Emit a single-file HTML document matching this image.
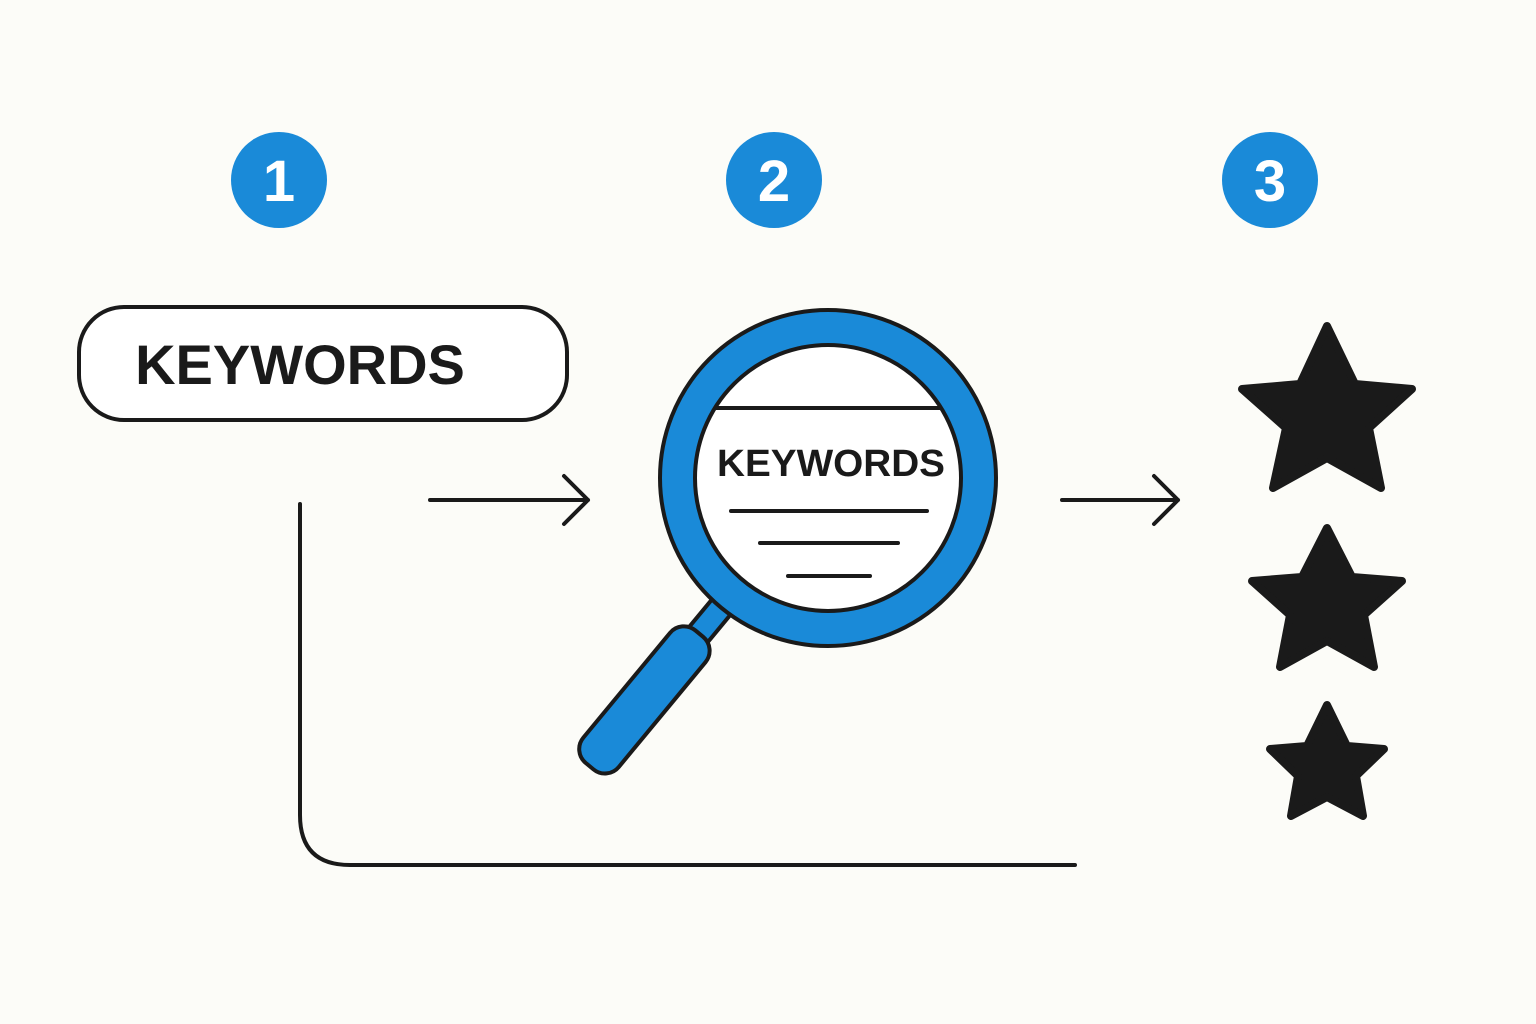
<!DOCTYPE html>
<html><head><style>html,body{margin:0;padding:0;background:#fcfcf8}svg{display:block}</style></head>
<body>
<svg width="1536" height="1024" viewBox="0 0 1536 1024" xmlns="http://www.w3.org/2000/svg">
<rect width="1536" height="1024" fill="#fcfcf8"/>
<g fill="#1a8ad8">
<circle cx="279" cy="180" r="48"/><circle cx="774" cy="180" r="48"/><circle cx="1270" cy="180" r="48"/>
</g>
<g fill="#fff" font-family="Liberation Sans, sans-serif" font-weight="bold" font-size="58" text-anchor="middle">
<text x="279" y="201">1</text><text x="774" y="201">2</text><text x="1270" y="201">3</text>
</g>
<rect x="79" y="307" width="488" height="113" rx="45" fill="#fff" stroke="#1a1a1a" stroke-width="4"/>
<text x="300" y="384" font-family="Liberation Sans, sans-serif" font-weight="bold" font-size="56" text-anchor="middle" fill="#1a1a1a">KEYWORDS</text>
<g stroke="#1a1a1a" stroke-width="4" fill="none" stroke-linecap="round" stroke-linejoin="round">
<path d="M430 500 H588 M564 476 L588 500 L564 524"/>
<path d="M1062 500 H1178 M1154 476 L1178 500 L1154 524"/>
<path d="M300 504 V815 Q300 865 350 865 H1075"/>
</g>
<!-- magnifier -->
<g stroke="#1a1a1a" stroke-width="4" stroke-linejoin="round">
<g transform="translate(828 478) rotate(39.6)" fill="#1a8ad8">
<rect x="-12" y="150" width="24" height="62"/>
<rect x="-23" y="202" width="46" height="172" rx="18"/>
</g>
<circle cx="828" cy="478" r="168" fill="#1a8ad8"/>
<circle cx="828" cy="478" r="133" fill="#fff"/>
</g>
<g stroke="#1a1a1a" stroke-width="4" stroke-linecap="round">
<line x1="716" y1="408" x2="940" y2="408"/>
<line x1="731" y1="511" x2="927" y2="511"/>
<line x1="760" y1="543" x2="898" y2="543"/>
<line x1="788" y1="576" x2="870" y2="576"/>
</g>
<text x="831" y="476" font-family="Liberation Sans, sans-serif" font-weight="bold" font-size="38" text-anchor="middle" fill="#1a1a1a" textLength="228" lengthAdjust="spacingAndGlyphs">KEYWORDS</text>
<!-- stars -->
<g fill="#1a1a1a" stroke="#1a1a1a" stroke-width="8" stroke-linejoin="round">
<path d="M1327 326 L1355 384 L1412 389 L1369 428 L1381 488 L1327 458 L1273 488 L1286 428 L1242 389 L1300 384 Z"/>
<path d="M1327 528 L1352 577 L1402 581 L1364 615 L1374 667 L1327 641 L1280 667 L1290 615 L1252 581 L1302 577 Z"/>
<path d="M1327 705 L1347 746 L1384 749 L1356 776 L1363 816 L1327 797 L1291 816 L1298 776 L1270 749 L1307 746 Z"/>
</g>
</svg>
</body></html>
